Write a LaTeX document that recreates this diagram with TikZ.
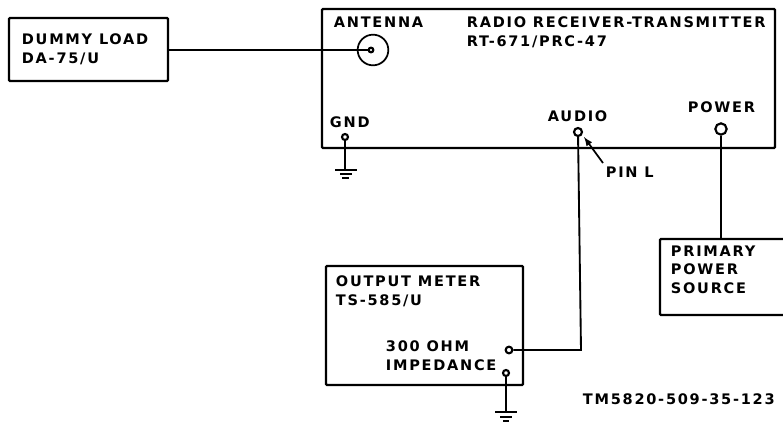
\documentclass[tikz,border=0pt]{standalone}
\usepackage{fontspec}
\setmainfont{DejaVu Sans}[LetterSpace=12]
\tikzset{every picture/.style={line width=1.4pt}}
\tikzset{
  lbl/.style={inner sep=0pt,font=\fontsize{10.9}{13.8}\selectfont\bfseries,align=left},
  unitbox/.style={draw,line width=1.7pt,rounded corners=0.8pt},
  pin/.style={circle,draw,line width=1.6pt,fill=white,inner sep=0pt,minimum size=6pt}
}
\begin{document}
\begin{tikzpicture}[x=0.75pt,y=0.75pt,yscale=-1,xscale=1]
\useasboundingbox (0,0) rectangle (783,422);

%Boxes
\draw [unitbox] (9,18) rectangle (168,81);
\draw [unitbox] (322,9) rectangle (775,148);
\draw [unitbox] (326,266) rectangle (523,385);
\draw [unitbox] (660,239) rectangle (790,315);

%Pins
\node [circle,draw,line width=1.3pt,minimum size=23pt,inner sep=0pt] (ant) at (373,50) {};
\node [pin,minimum size=3.5pt] (antpin) at (371,50) {};
\coordinate (dummyout) at (168,50);
\node [pin,minimum size=4.5pt] (gnd) at (345,137) {};
\node [pin] (audio) at (578,132) {};
\node [pin,minimum size=8.5pt] (power) at (721,129) {};
\coordinate (srcin) at (721,239);
\node [pin,minimum size=5pt] (meterout) at (509,350) {};
\node [pin,minimum size=4.5pt] (metergnd) at (506,373) {};
\coordinate (g1) at (345,170);
\coordinate (g2) at (506,412);
\coordinate (bend) at (581,350);
\coordinate (pinl) at (603,163);
\coordinate (pinltip) at (584,137);

%Connectors
\draw (dummyout) -- (antpin);
\draw (gnd) -- (g1);
\draw (audio) -- (bend) -- (meterout);
\draw (power) -- (srcin);
\draw (metergnd) -- (g2);
\draw [-latex,line width=1.3pt] (pinl) -- (pinltip);

%Ground marks
\draw (335,170) -- (357,170);
\draw (340,174) -- (352,174);
\draw (342,178) -- (349,178);
\draw (495,412) -- (517,412);
\draw (500,417) -- (512,417);
\draw (503,421) -- (509,421);

% Text Node
\node [lbl,anchor=north west] (antlbl) at (333,16) {ANTENNA};
\node [lbl,anchor=north west] (rtlbl) at (466,16) {RADIO RECEIVER-TRANSMITTER\\RT-671/PRC-47};
\node [lbl,anchor=north west] (dummylbl) at (21,33) {DUMMY LOAD\\DA-75/U};
\node [lbl,anchor=north west] (gndlbl) at (329,116) {GND};
\node [lbl,anchor=north west] (audiolbl) at (547,110) {AUDIO};
\node [lbl,anchor=north west] (powerlbl) at (687,101) {POWER};
\node [lbl,anchor=north west] (pinllbl) at (605,166) {PIN L};
\node [lbl,anchor=north west] (meterlbl) at (335,275) {OUTPUT METER\\TS-585/U};
\node [lbl,anchor=north west] (ohmlbl) at (385,340) {300 OHM\\IMPEDANCE};
\node [lbl,anchor=north west] (srclbl) at (670,245) {PRIMARY\\POWER\\SOURCE};
\node [lbl,anchor=north west] (tmlbl) at (582,393) {TM5820-509-35-123};
\end{tikzpicture}
\end{document}
